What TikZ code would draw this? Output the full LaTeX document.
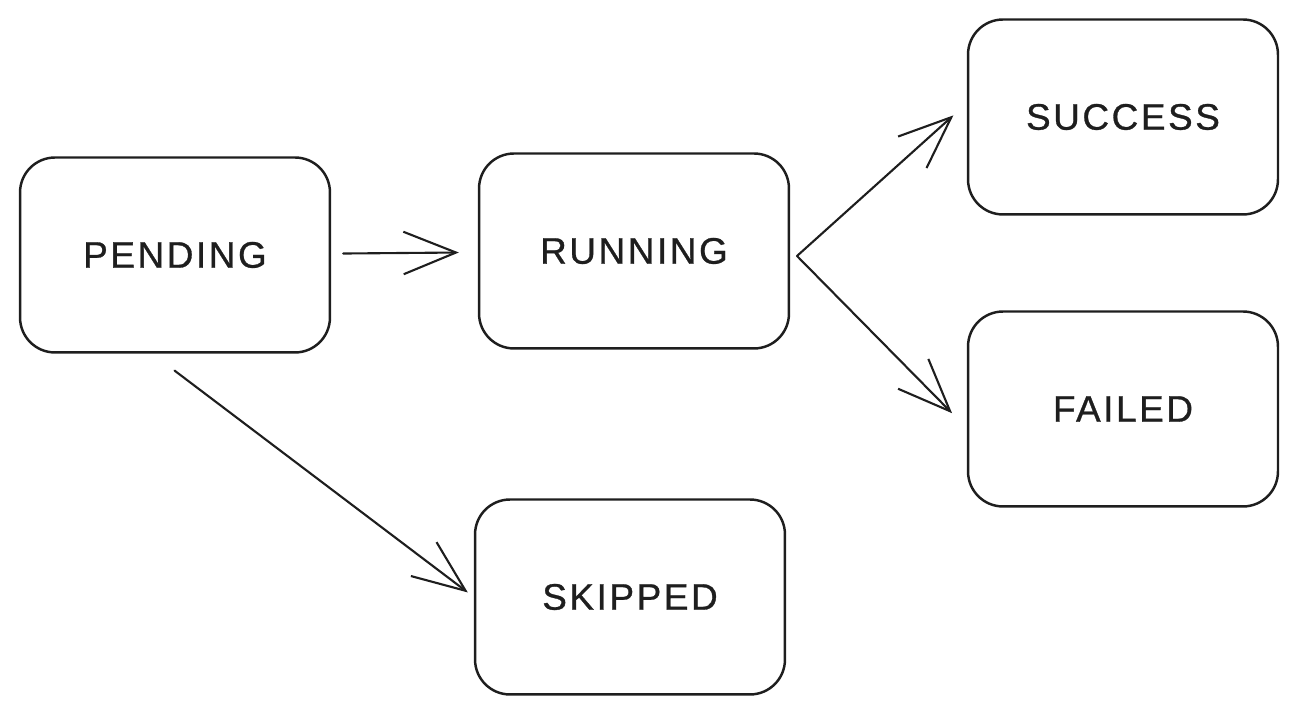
\documentclass[tikz,border=0pt]{standalone}
\usepackage{fontspec}
\setmainfont{Liberation Sans}
\usepackage{xcolor}
\usepackage{tikz}
\usetikzlibrary{arrows.meta}
\definecolor{ink}{HTML}{1E1E1E}
\tikzset{
  state/.style={draw=ink, line width=1.4pt, rounded corners=0.7cm, minimum width=6.2cm, minimum height=3.9cm, text=ink, font=\fontsize{21}{25}\selectfont\addfontfeatures{LetterSpace=7,FakeBold=0.8}},
  flow/.style={draw=ink, line width=1.2pt, line cap=round, line join=round, -{Straight Barb[length=1.05cm,width=0.85cm]}},
}
\begin{document}
\begin{tikzpicture}[x=0.02cm,y=0.02cm]
  \useasboundingbox (0,0) rectangle (1299,715);
  \foreach \N/\X/\Y/\T in {pend/175/460/PENDING,run/634/464/RUNNING,succ/1123/598/SUCCESS,fail/1123/306/FAILED,skip/630/118/SKIPPED}
    \node[state] (\N) at (\X,\Y) {\T};
  \coordinate (fork) at (797,459);
  \draw[flow,shorten <=0.24cm,shorten >=0.38cm] (pend) -- (run);
  \draw[flow,shorten >=0.36cm] (fork) -- (succ.175);
  \draw[flow,shorten >=0.42cm] (fork) -- (fail.187);
  \draw[flow,shorten <=0.56cm,shorten >=0.15cm] (pend.257) -- (skip.west);
\end{tikzpicture}
\end{document}
